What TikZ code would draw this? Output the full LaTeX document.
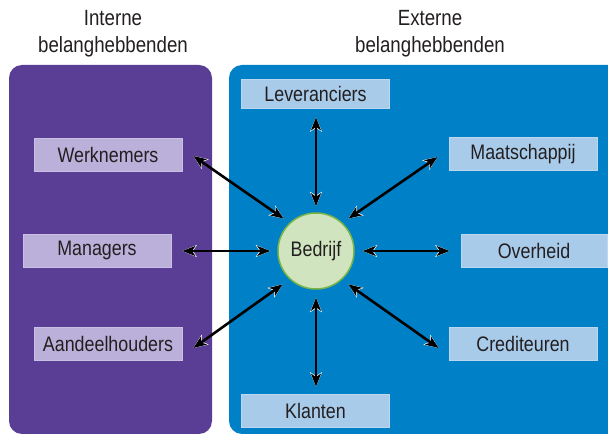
\documentclass[tikz,border=0pt]{standalone}
\usepackage{fontspec}
\setmainfont[FakeStretch=0.85]{Liberation Sans}
\usetikzlibrary{arrows.meta}

\definecolor{intbg}{HTML}{5A3E96}
\definecolor{intbox}{HTML}{BAB0DA}
\definecolor{intboxline}{HTML}{C8BFE2}
\definecolor{extbg}{HTML}{0080C6}
\definecolor{extbox}{HTML}{A9CBEA}
\definecolor{extboxline}{HTML}{BCD7EF}
\definecolor{corefill}{HTML}{D0E4BF}
\definecolor{coreline}{HTML}{79B546}
\definecolor{ink}{HTML}{231F20}

\tikzset{
  blackhead/.tip={Stealth[length=13pt, width=10pt, inset=3.5pt]},
  whitehead/.tip={Stealth[length=14.5pt, width=12pt, inset=4pt]},
  panel/.style={rounded corners=13pt},
  party/.style={minimum width=148pt, minimum height=33pt, inner sep=0pt,
                text=ink, font=\fontsize{21}{24}\selectfont, line width=0.8pt},
  intparty/.style={party, fill=intbox, draw=intboxline},
  extparty/.style={party, fill=extbox, draw=extboxline},
  heading/.style={align=center, text=ink, font=\fontsize{22}{27}\selectfont},
  linkhalo/.style={draw=white, line width=0.4pt, {whitehead}-{whitehead}},
  link/.style={draw=black, line width=2.6pt, {blackhead}-{blackhead}}
}
% a two-way arrow whose heads have a thin white rim
\newcommand\twoway[2]{%
  \draw[linkhalo] #1 -- #2;
  \draw[link] #1 -- #2;}

\begin{document}
\begin{tikzpicture}[x=1pt,y=-1pt]
  \useasboundingbox (0,0) rectangle (608,435);
  \clip (0,0) rectangle (608,435);

  % group headings
  \node[heading] (inthead) at (113,33.5) {Interne\\belanghebbenden};
  \node[heading] (exthead) at (430,33.5) {Externe\\belanghebbenden};

  % background panels
  \fill[intbg, panel] (9,65) rectangle (212,434);
  \fill[extbg, panel] (229,65) rectangle (630,434);

  % internal stakeholders
  \node[intparty] (werk) at (108,154.5) {Werknemers};
  \node[intparty] (man)  at (97,250.5)  {Managers};
  \node[intparty] (aand) at (108,343.5) {Aandeelhouders};

  % external stakeholders
  \node[extparty, minimum height=29pt] (lev) at (315.5,93.5) {Leveranciers};
  \node[extparty] (maat) at (523,154)   {Maatschappij};
  \node[extparty, minimum width=146pt] (over) at (534,251) {Overheid};
  \node[extparty] (cred) at (523,343.5) {Crediteuren};
  \node[extparty] (klan) at (315.5,410.5) {Klanten};

  % the company in the middle
  \node[circle, minimum size=76pt, inner sep=0pt, fill=corefill, draw=coreline,
        line width=1.5pt, text=ink, font=\fontsize{21}{24}\selectfont]
        (bedrijf) at (316,251) {Bedrijf};

  % two-way relations
  \twoway{([shift={(11,1.5)}]werk.east)}{([shift={(-5,-5)}]bedrijf.135)}
  \twoway{([shift={(11,0.5)}]man.east)}{([shift={(-7,0)}]bedrijf.west)}
  \twoway{([shift={(11,4.5)}]aand.east)}{([shift={(-6,6)}]bedrijf.225)}
  \twoway{([shift={(0.5,9)}]lev.south)}{([shift={(0,-6)}]bedrijf.north)}
  \twoway{([shift={(0,8)}]bedrijf.south)}{([shift={(0.5,-7)}]klan.north)}
  \twoway{([shift={(-11,3)}]maat.west)}{([shift={(5,-5)}]bedrijf.45)}
  \twoway{([shift={(-11,0)}]over.west)}{([shift={(8,0)}]bedrijf.east)}
  \twoway{([shift={(-10,4.5)}]cred.west)}{([shift={(5,6)}]bedrijf.315)}
\end{tikzpicture}
\end{document}
